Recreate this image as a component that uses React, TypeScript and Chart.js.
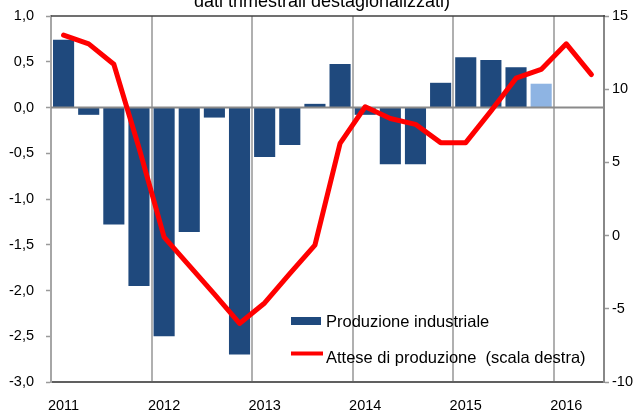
import React, { useEffect, useRef } from 'react';
import { Chart, registerables } from 'chart.js';

Chart.register(...registerables);

// ---- Data ----
const quarters = [
  '2011 T1', '2011 T2', '2011 T3', '2011 T4',
  '2012 T1', '2012 T2', '2012 T3', '2012 T4',
  '2013 T1', '2013 T2', '2013 T3', '2013 T4',
  '2014 T1', '2014 T2', '2014 T3', '2014 T4',
  '2015 T1', '2015 T2', '2015 T3', '2015 T4',
  '2016 T1', '2016 T2',
];

// Produzione industriale (left axis, % change)
const productionValues = [
  0.74, -0.08, -1.28, -1.95,
  -2.5, -1.36, -0.11, -2.7,
  -0.54, -0.41, 0.04, 0.475,
  -0.08, -0.62, -0.62, 0.27,
  0.55, 0.52, 0.44, 0.26,
];

// Attese di produzione (right axis)
const expectationValues = [
  13.7, 13.1, 11.7, 6.0,
  -0.1, -2.05, -4.0, -6.0,
  -4.6, -2.6, -0.65, 6.3,
  8.8, 8.0, 7.6, 6.35,
  6.35, 8.5, 10.75, 11.35,
  13.1, 11.0,
];

const leftTicks = [-3, -2.5, -2, -1.5, -1, -0.5, 0, 0.5, 1];
const rightTicks = [-10, -5, 0, 5, 10, 15];

const titleText = 'dati trimestrali destagionalizzati)';
const legendLabels = ['Produzione industriale', 'Attese di produzione  (scala destra)'];

const DARK_BLUE = '#1f497d';
const LIGHT_BLUE = '#8eb4e3';
const RED = '#ff0000';
const FONT = '"Liberation Sans", Arial, sans-serif';

const extrasPlugin = {
  id: 'extras',
  beforeDatasetDraw(chart: any, args: any) {
    if (args.index !== 1) return;
    const { ctx, chartArea } = chart;
    const y = chart.scales.y.getPixelForValue(0);
    ctx.save();
    ctx.strokeStyle = '#8a8a8a';
    ctx.lineWidth = 2;
    ctx.beginPath();
    ctx.moveTo(chartArea.left, y);
    ctx.lineTo(chartArea.right, y);
    ctx.stroke();
    ctx.restore();
  },
  afterDraw(chart: any) {
    const { ctx, chartArea } = chart;
    ctx.save();
    // top border
    ctx.strokeStyle = '#404040';
    ctx.lineWidth = 1.5;
    ctx.beginPath();
    ctx.moveTo(chartArea.left, chartArea.top);
    ctx.lineTo(chartArea.right + 1, chartArea.top);
    ctx.stroke();

    // legend
    const lx = 291;
    ctx.fillStyle = DARK_BLUE;
    ctx.fillRect(lx, 317, 30, 8);
    ctx.strokeStyle = RED;
    ctx.lineWidth = 4;
    ctx.beginPath();
    ctx.moveTo(lx, 353.5);
    ctx.lineTo(lx + 32, 353.5);
    ctx.stroke();
    ctx.fillStyle = '#000';
    ctx.font = `16.5px ${FONT}`;
    ctx.textBaseline = 'alphabetic';
    ctx.textAlign = 'left';
    ctx.fillText(legendLabels[0], 326, 327);
    ctx.fillText(legendLabels[1], 326, 362.5);
    ctx.restore();
  },
};

export default function App() {
  const canvasRef = useRef<HTMLCanvasElement | null>(null);

  useEffect(() => {
    if (!canvasRef.current) return;
    const barColors = productionValues.map((_, i) =>
      i === productionValues.length - 1 ? LIGHT_BLUE : DARK_BLUE
    );
    const chart = new Chart(canvasRef.current, {
      type: 'bar',
      data: {
        labels: quarters,
        datasets: [
          {
            type: 'bar',
            label: legendLabels[0],
            data: productionValues,
            backgroundColor: barColors,
            barPercentage: 0.84,
            categoryPercentage: 1,
            yAxisID: 'y',
            order: 1,
          },
          {
            type: 'line',
            label: legendLabels[1],
            data: expectationValues,
            borderColor: RED,
            backgroundColor: RED,
            borderWidth: 5,
            pointRadius: 0,
            tension: 0,
            borderCapStyle: 'round',
            borderJoinStyle: 'round',
            yAxisID: 'y1',
            order: 0,
          },
        ] as any,
      },
      options: {
        animation: false,
        responsive: false,
        maintainAspectRatio: false,
        layout: { padding: { top: 16, left: 0, right: 0, bottom: 0 } },
        plugins: {
          legend: { display: false },
          tooltip: { enabled: false },
          title: { display: false },
        },
        scales: {
          x: {
            type: 'category',
            offset: true,
            afterFit: (s: any) => { s.height = 30; },
            grid: {
              offset: true,
              drawTicks: false,
              color: (c: any) =>
                c.type === 'tick' && c.index % 4 === 0 && c.index > 0 ? '#b0b0b0' : 'rgba(0,0,0,0)',
              lineWidth: 2,
            },
            border: { display: true, color: '#606060', width: 2 },
            ticks: {
              autoSkip: false,
              maxRotation: 0,
              minRotation: 0,
              padding: 15,
              color: '#000',
              font: { family: FONT, size: 14.5 },
              callback: (_v: any, i: number) => (i % 4 === 0 ? quarters[i].slice(0, 4) : ''),
            },
          },
          y: {
            type: 'linear',
            position: 'left',
            min: leftTicks[0],
            max: leftTicks[leftTicks.length - 1],
            afterFit: (s: any) => { s.width = 51; },
            afterBuildTicks: (s: any) => { s.ticks = leftTicks.map((v) => ({ value: v })); },
            grid: {
              drawOnChartArea: false,
              drawTicks: true,
              tickLength: 5,
              tickColor: '#9a9a9a',
              tickWidth: 1.5,
            },
            border: { display: true, color: '#a6a6a6', width: 2 },
            ticks: {
              padding: 12,
              color: '#000',
              font: { family: FONT, size: 14.5, lineHeight: 0.45 },
              callback: (v: any) => Number(v).toFixed(1).replace('.', ','),
            },
          },
          y1: {
            type: 'linear',
            position: 'right',
            min: rightTicks[0],
            max: rightTicks[rightTicks.length - 1],
            afterFit: (s: any) => { s.width = 35; },
            afterBuildTicks: (s: any) => { s.ticks = rightTicks.map((v) => ({ value: v })); },
            grid: {
              drawOnChartArea: false,
              drawTicks: true,
              tickLength: 5,
              tickColor: '#9a9a9a',
              tickWidth: 1.5,
            },
            border: { display: true, color: '#888888', width: 2 },
            ticks: {
              padding: 3,
              color: '#000',
              font: { family: FONT, size: 14.5, lineHeight: 0.45 },
              callback: (v: any) => String(v),
            },
          },
        },
      } as any,
      plugins: [extrasPlugin],
    });
    return () => chart.destroy();
  }, []);

  return (
    <div
      style={{
        position: 'fixed',
        left: 0,
        top: 0,
        width: 639,
        height: 412,
        overflow: 'hidden',
        background: '#fff',
      }}
    >
      <canvas ref={canvasRef} width={639} height={412} style={{ position: 'absolute', left: 0, top: 0 }} />
      <div
        style={{
          position: 'absolute',
          left: 0,
          top: -8,
          width: 644,
          textAlign: 'center',
          fontFamily: FONT,
          fontSize: 18,
          lineHeight: '18px',
          color: '#000',
          whiteSpace: 'nowrap',
        }}
      >
        {titleText}
      </div>
    </div>
  );
}
